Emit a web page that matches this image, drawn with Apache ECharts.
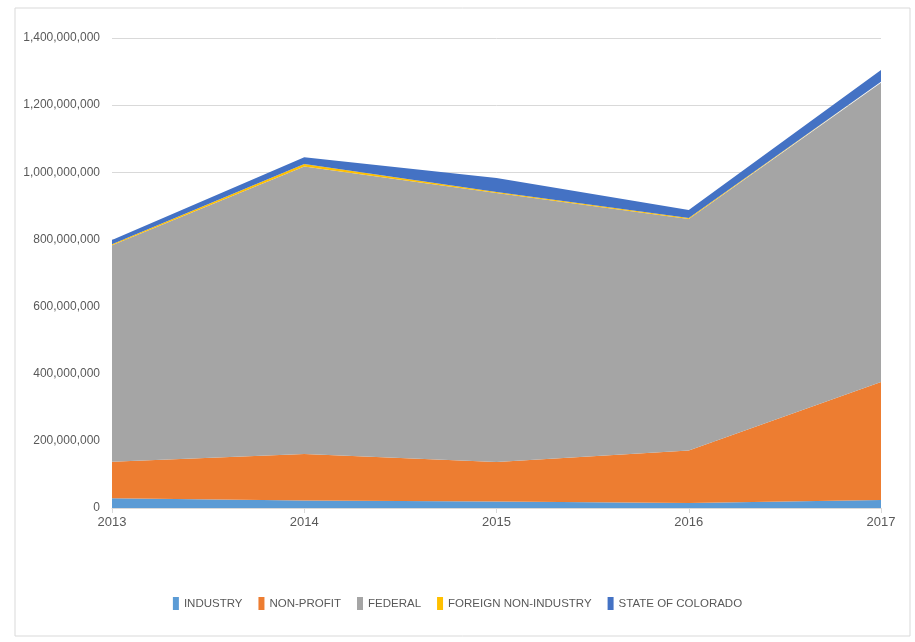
<!DOCTYPE html>
<html>
<head>
<meta charset="utf-8">
<script src="https://cdn.jsdelivr.net/npm/echarts@6/dist/echarts.min.js"></script>
<style>
  html, body { margin: 0; padding: 0; background: #fff; }
  #chart { width: 915px; height: 642px; }
</style>
</head>
<body>
<div id="chart"></div>
<script>
// data (values in dollars)
const years = ["2013", "2014", "2015", "2016", "2017"];
const industry = [29e6, 22e6, 19e6, 15e6, 24e6];
const nonProfit = [109e6, 139e6, 118e6, 156e6, 351e6];
const federal = [645e6, 856e6, 801e6, 690e6, 892e6];
const foreignNonIndustry = [3e6, 8e6, 3e6, 3e6, 3e6];
const stateOfColorado = [12e6, 20e6, 42e6, 24e6, 35e6];

const seriesNames = ["INDUSTRY", "NON-PROFIT", "FEDERAL", "FOREIGN NON-INDUSTRY", "STATE OF COLORADO"];
const seriesColors = ["#5B9BD5", "#ED7D31", "#A5A5A5", "#FFC000", "#4472C4"];
const seriesData = [industry, nonProfit, federal, foreignNonIndustry, stateOfColorado];

const font = "'Liberation Sans', Arial, sans-serif";

const myChart = echarts.init(document.getElementById("chart"));

const option = {
  animation: false,
  backgroundColor: "#fff",
  textStyle: { fontFamily: font },
  graphic: [
    {
      type: "rect",
      shape: { x: 15, y: 8, width: 895, height: 628 },
      style: { fill: "none", stroke: "#d9d9d9", lineWidth: 1 },
      silent: true,
    },
  ],
  grid: {
    left: 112,
    right: 34,
    top: 38,
    bottom: 134,
  },
  legend: {
    bottom: 27,
    left: "center",
    itemWidth: 6,
    itemHeight: 13,
    itemGap: 16,
    icon: "rect",
    textStyle: { color: "#595959", fontSize: 11.5, fontFamily: font },
    data: seriesNames,
  },
  xAxis: {
    type: "category",
    boundaryGap: false,
    data: years,
    axisLine: { show: true, lineStyle: { color: "#d9d9d9" } },
    axisTick: { show: true, length: 5, lineStyle: { color: "#d9d9d9" } },
    axisLabel: { color: "#595959", fontSize: 13, margin: 8, fontFamily: font },
  },
  yAxis: {
    type: "value",
    min: 0,
    max: 1400000000,
    interval: 200000000,
    axisLine: { show: false },
    axisTick: { show: false },
    axisLabel: {
      color: "#595959",
      fontSize: 12,
      margin: 12,
      fontFamily: font,
      formatter: (v) => v.toLocaleString("en-US"),
    },
    splitLine: { lineStyle: { color: "#d9d9d9" } },
  },
  series: seriesNames.map((name, i) => ({
    name: name,
    type: "line",
    stack: "total",
    data: seriesData[i],
    symbol: "none",
    lineStyle: { width: 0 },
    areaStyle: { color: seriesColors[i], opacity: 1 },
    itemStyle: { color: seriesColors[i] },
  })),
};

myChart.setOption(option);
</script>
</body>
</html>
